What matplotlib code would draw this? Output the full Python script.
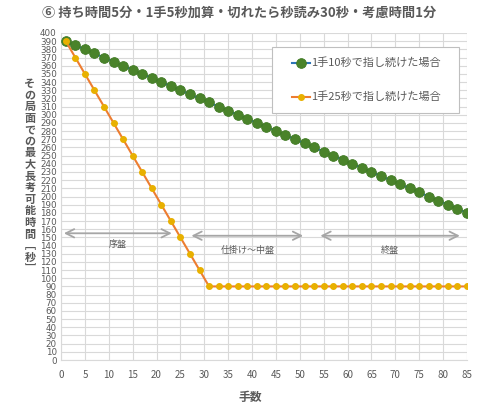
import matplotlib
matplotlib.use("Agg")
import matplotlib.pyplot as plt
from matplotlib.patches import Rectangle
from matplotlib.lines import Line2D

plt.rcParams['font.family'] = ['Noto Sans CJK JP', 'DejaVu Sans']

title = "⑥ 持ち時間5分・1手5秒加算・切れたら秒読み30秒・考慮時間1分"
xlabel = "手数"
ylabel = "その局面での最大長考可能時間﹇秒﹈"
series1_label = "1手10秒で指し続けた場合"
series2_label = "1手25秒で指し続けた場合"

moves = [1, 3, 5, 7, 9, 11, 13, 15, 17, 19, 21, 23, 25, 27, 29, 31, 33, 35, 37, 39,
         41, 43, 45, 47, 49, 51, 53, 55, 57, 59, 61, 63, 65, 67, 69, 71, 73, 75, 77,
         79, 81, 83, 85]
series1 = [390, 385, 380, 375, 370, 365, 360, 355, 350, 345, 340, 335, 330, 325, 320,
           315, 310, 305, 300, 295, 290, 285, 280, 275, 270, 265, 260, 255, 250, 245,
           240, 235, 230, 225, 220, 215, 210, 205, 200, 195, 190, 185, 180]
series2 = [390, 370, 350, 330, 310, 290, 270, 250, 230, 210, 190, 170, 150, 130, 110,
           90, 90, 90, 90, 90, 90, 90, 90, 90, 90, 90, 90, 90, 90, 90, 90, 90, 90, 90,
           90, 90, 90, 90, 90, 90, 90, 90, 90]

phase_labels = ["序盤", "仕掛け～中盤", "終盤"]
phase_start = [0.6, 27.3, 54.3]
phase_end = [23.2, 50.7, 83.5]
phase_arrow_y = [155, 152, 152]
phase_text_y = [141, 134, 134]

xticks = list(range(0, 86, 5))
yticks = list(range(0, 401, 10))

W, H = 480, 409
fig = plt.figure(figsize=(W / 100, H / 100), dpi=100)
ax = fig.add_axes([61 / W, (H - 360) / H, (467 - 61) / W, (360 - 33) / H])

grid_c = '#D9D9D9'
text_c = '#595959'

s1_style = dict(color='#2E75B6', lw=1.5, marker='o', markersize=7,
                markerfacecolor='#4A832A', markeredgecolor='#3F7A22', markeredgewidth=0.6)
s2_style = dict(color='#ED7D31', lw=1.5, marker='o', markersize=4,
                markerfacecolor='#E8B000', markeredgecolor='#E8B000')
ax.plot(moves, series1, zorder=3, **s1_style)
ax.plot(moves, series2, zorder=4, **s2_style)

for lab, s, e, ay, ty in zip(phase_labels, phase_start, phase_end, phase_arrow_y, phase_text_y):
    ax.annotate("", xy=(e, ay), xytext=(s, ay),
                arrowprops=dict(arrowstyle='<->,head_length=0.6,head_width=0.3',
                                color='#A6A6A6', lw=1.3, shrinkA=0, shrinkB=0))
    ax.text((s + e) / 2, ty, lab, ha='center', va='center', fontsize=6.5, color=text_c)

ax.set_xlim(0, 85)
ax.set_ylim(0, 400)
ax.set_xticks(xticks)
ax.set_yticks(yticks)
ax.tick_params(axis='x', labelsize=7, colors=text_c, length=0, pad=7)
ax.tick_params(axis='y', labelsize=6.3, colors=text_c, length=0, pad=3)
for lbl in ax.get_yticklabels():
    lbl.set_family(['Liberation Sans Narrow', 'DejaVu Sans'])
ax.grid(True, color=grid_c, lw=0.8)
ax.set_axisbelow(True)
for sp in ['top', 'right']:
    ax.spines[sp].set_visible(False)
for sp in ['left', 'bottom']:
    ax.spines[sp].set_color(grid_c)
    ax.spines[sp].set_linewidth(0.8)

fig.text(239 / W, 1 - 13 / H, title, ha='center', va='center', fontsize=9.5,
         fontweight='bold', color=text_c)
fig.text(250 / W, 1 - 397 / H, xlabel, ha='center', va='center', fontsize=8.5,
         fontweight='bold', color=text_c)
fig.text(30 / W, 1 - 176 / H, "\n".join(ylabel), ha='center', va='center', fontsize=8,
         fontweight='bold', color=text_c, linespacing=0.86)

# legend box (drawn manually for exact placement)
fig.patches.append(Rectangle((272 / W, 1 - 113 / H), (459 - 272) / W, (113 - 47) / H,
                             transform=fig.transFigure, facecolor='white',
                             edgecolor='#BFBFBF', lw=0.8, zorder=5))
for yy, lab, st in [(63, series1_label, s1_style), (97, series2_label, s2_style)]:
    fy = 1 - yy / H
    fig.lines.append(Line2D([292 / W, 310 / W], [fy, fy], transform=fig.transFigure,
                            zorder=6, **st, markevery=[]))
    fig.lines.append(Line2D([301 / W], [fy], transform=fig.transFigure, zorder=7,
                            **{k: v for k, v in st.items() if k not in ('lw',)}, lw=0))
    fig.text(311 / W, fy, lab, ha='left', va='center', fontsize=8, color=text_c, zorder=7)

fig.savefig("out.png", dpi=100)
